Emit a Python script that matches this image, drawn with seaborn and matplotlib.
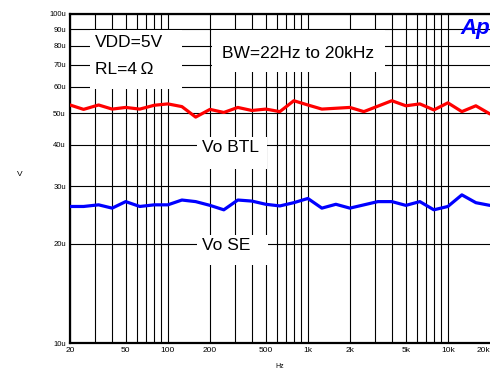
import numpy as np
import pandas as pd
import matplotlib
matplotlib.use('Agg')
import matplotlib.pyplot as plt
import seaborn as sns
from matplotlib.patches import Rectangle
from matplotlib.ticker import FixedLocator, NullFormatter

# sweep frequencies (Hz) and output levels (uV)
freq_btl = [20, 25, 32, 40, 50, 63, 80, 100, 126, 158, 200, 251, 316, 398, 501,
            631, 794, 1000, 1259, 1995, 2512, 3981, 5012, 6310, 7943, 10000,
            12589, 15849, 19953]
vo_btl = [52.9, 51.3, 52.9, 51.4, 52.0, 51.4, 52.8, 53.3, 52.3, 48.6, 51.3,
          50.2, 52.0, 50.9, 51.4, 50.5, 54.5, 52.9, 51.4, 52.0, 50.5, 54.5,
          52.6, 53.3, 51.1, 53.7, 50.5, 52.6, 49.7]

freq_se = [20, 25, 32, 40, 50, 63, 80, 100, 126, 158, 200, 251, 316, 398, 501,
           631, 794, 1000, 1259, 1585, 1995, 3162, 3981, 5012, 6310, 7943,
           10000, 12589, 15849, 19953]
vo_se = [26.0, 26.0, 26.3, 25.7, 26.9, 26.0, 26.3, 26.3, 27.2, 26.9, 26.2,
         25.4, 27.2, 27.0, 26.4, 26.1, 26.7, 27.5, 25.7, 26.4, 25.7, 26.9,
         26.9, 26.2, 26.9, 25.4, 26.0, 28.2, 26.7, 26.2]

x_major = [20, 50, 100, 200, 500, 1000, 2000, 5000, 10000, 20000]
x_labels = ['20', '50', '100', '200', '500', '1k', '2k', '5k', '10k', '20k']
x_minor = [30, 40, 60, 70, 80, 90, 300, 400, 600, 700, 800, 900,
           3000, 4000, 6000, 7000, 8000, 9000]
y_ticks = [10, 20, 30, 40, 50, 60, 70, 80, 90, 100]
y_labels = ['10u', '20u', '30u', '40u', '50u', '60u', '70u', '80u', '90u', '100u']

sns.set_style('white')
plt.rcParams['font.family'] = ['Liberation Sans', 'DejaVu Sans']
plt.rcParams['text.color'] = 'black'
plt.rcParams['axes.labelcolor'] = 'black'
plt.rcParams['xtick.color'] = 'black'
plt.rcParams['ytick.color'] = 'black'

fig = plt.figure(figsize=(4.9, 3.72), dpi=100)
ax = fig.add_axes([70 / 490, 1 - 343 / 372, 420 / 490, 329 / 372])

df_btl = pd.DataFrame({'Hz': freq_btl, 'V': vo_btl})
df_se = pd.DataFrame({'Hz': freq_se, 'V': vo_se})
sns.lineplot(data=df_btl, x='Hz', y='V', color='#ff0000', lw=2.3, ax=ax, zorder=3)
sns.lineplot(data=df_se, x='Hz', y='V', color='#0000ff', lw=2.3, ax=ax, zorder=3)

ax.set_xscale('log')
ax.set_yscale('log')
ax.set_xlim(20, 20000)
ax.set_ylim(10, 100)

ax.xaxis.set_major_locator(FixedLocator(x_major))
ax.set_xticklabels(x_labels, fontsize=6)
ax.get_xticklabels()[-1].set_horizontalalignment('right')
ax.xaxis.set_minor_locator(FixedLocator(x_minor))
ax.xaxis.set_minor_formatter(NullFormatter())
ax.yaxis.set_major_locator(FixedLocator(y_ticks))
ax.set_yticklabels(y_labels, fontsize=5.5)
ax.yaxis.set_minor_locator(FixedLocator([]))
ax.yaxis.set_minor_formatter(NullFormatter())
ax.tick_params(which='both', length=0)
ax.tick_params(axis='x', pad=3)
ax.tick_params(axis='y', pad=3)

ax.set_axisbelow(True)
ax.grid(which='both', color='black', lw=0.8)
ax.get_xgridlines()[-1].set_visible(False)

for side in ['top', 'left', 'bottom']:
    ax.spines[side].set_linewidth(1.6)
    ax.spines[side].set_color('black')
ax.spines['right'].set_visible(False)

ax.set_xlabel('Hz', fontsize=5, labelpad=6)
ax.set_ylabel('V', fontsize=6, rotation=0)
ax.yaxis.set_label_coords(-0.12, 0.5)

# white label boxes that cut the grid
boxes = [(0.048, 0.772, 0.219, 0.179),
         (0.338, 0.824, 0.412, 0.127),
         (0.302, 0.529, 0.167, 0.097),
         (0.302, 0.237, 0.169, 0.091)]
for bx, by, bw, bh in boxes:
    ax.add_patch(Rectangle((bx, by), bw, bh, transform=ax.transAxes,
                           facecolor='white', edgecolor='none', zorder=2))

tk = dict(transform=ax.transAxes, fontsize=12.5, va='center', zorder=4)
ax.text(0.060, 0.912, 'VDD=5V', **tk)
ax.text(0.060, 0.830, 'RL=4\u2009\u03a9', **tk)
ax.text(0.362, 0.881, 'BW=22Hz to 20kHz', **tk)
ax.text(0.314, 0.593, 'Vo BTL', **tk)
ax.text(0.314, 0.295, 'Vo SE', **tk)

ax.text(1.0, 0.955, 'Ap', transform=ax.transAxes, fontsize=16,
        fontweight='bold', fontstyle='italic', color='#0000ff',
        ha='right', va='center', zorder=5, clip_on=False)

fig.savefig('out.png', dpi=100)
